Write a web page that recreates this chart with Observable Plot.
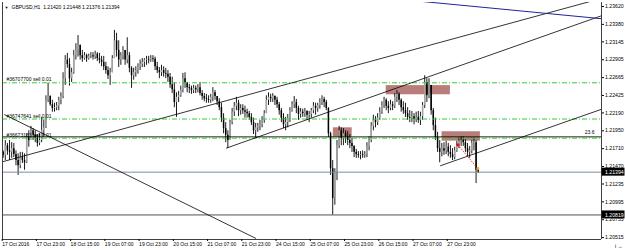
<!DOCTYPE html>
<html><head><meta charset="utf-8">
<script src="https://cdn.jsdelivr.net/npm/d3@7"></script>
<script src="https://cdn.jsdelivr.net/npm/@observablehq/plot@0.6"></script>
<style>html,body{margin:0;padding:0;background:#fff}#chart svg{display:block}</style>
</head><body><div id="chart"></div>
<script>
// ---- Header ----
const headerText = "GBPUSD,H1  1.21420 1.21448 1.21376 1.21394";

// ---- Candles (H1 bars, index 0 = 17 Oct 2016 07:00) ----
const firstOpen = 1.2166;
const highs = [
1.2168,1.2182,1.2178,1.2182,1.2179,1.2178,1.2168,1.2164,1.2166,1.2166,
1.2164,1.2191,1.2195,1.2201,1.2198,1.2195,1.2190,1.2191,1.2213,1.2209,
1.2242,1.2259,1.2242,1.2236,1.2232,1.2233,1.2240,1.2246,1.2273,1.2296,
1.2299,1.2292,1.2279,1.2303,1.2312,1.2323,1.2310,1.2303,1.2300,1.2298,
1.2298,1.2300,1.2300,1.2302,1.2300,1.2299,1.2295,1.2295,1.2287,1.2281,
1.2279,1.2296,1.2330,1.2326,1.2316,1.2300,1.2308,1.2303,1.2320,1.2300,
1.2281,1.2279,1.2281,1.2285,1.2290,1.2292,1.2292,1.2295,1.2295,1.2296,
1.2296,1.2294,1.2287,1.2280,1.2283,1.2281,1.2279,1.2276,1.2272,1.2267,
1.2259,1.2246,1.2248,1.2255,1.2272,1.2273,1.2260,1.2257,1.2255,1.2256,
1.2255,1.2257,1.2260,1.2249,1.2245,1.2244,1.2242,1.2244,1.2253,1.2249,
1.2241,1.2238,1.2232,1.2218,1.2206,1.2195,1.2209,1.2225,1.2233,1.2240,
1.2236,1.2230,1.2230,1.2228,1.2224,1.2221,1.2218,1.2212,1.2205,1.2205,
1.2209,1.2214,1.2222,1.2242,1.2246,1.2244,1.2245,1.2242,1.2240,1.2233,
1.2225,1.2218,1.2213,1.2217,1.2226,1.2234,1.2241,1.2237,1.2228,1.2225,
1.2224,1.2225,1.2222,1.2221,1.2225,1.2233,1.2232,1.2232,1.2238,1.2242,
1.2240,1.2236,1.2226,1.2193,1.2155,1.2144,1.2182,1.2201,1.2199,1.2198,
1.2195,1.2194,1.2190,1.2185,1.2175,1.2170,1.2167,1.2167,1.2168,1.2167,
1.2179,1.2187,1.2206,1.2216,1.2214,1.2218,1.2226,1.2234,1.2240,1.2238,
1.2234,1.2236,1.2234,1.2245,1.2249,1.2246,1.2238,1.2234,1.2232,1.2226,
1.2222,1.2221,1.2218,1.2220,1.2221,1.2220,1.2233,1.2269,1.2265,1.2265,
1.2256,1.2225,1.2212,1.2193,1.2182,1.2178,1.2179,1.2181,1.2178,1.2175,
1.2171,1.2173,1.2181,1.2185,1.2187,1.2187,1.2183,1.2178,1.2174,1.2182,
1.2186,1.2182,1.21448];
const lows = [
1.2158,1.2155,1.2162,1.2155,1.2158,1.2159,1.2148,1.2135,1.2144,1.2151,
1.2142,1.2151,1.2173,1.2185,1.2182,1.2179,1.2173,1.2175,1.2179,1.2187,
1.2198,1.2233,1.2228,1.2220,1.2220,1.2222,1.2222,1.2230,1.2238,1.2256,
1.2279,1.2255,1.2260,1.2271,1.2290,1.2294,1.2290,1.2287,1.2290,1.2287,
1.2290,1.2292,1.2290,1.2291,1.2288,1.2285,1.2281,1.2276,1.2271,1.2264,
1.2256,1.2273,1.2292,1.2294,1.2280,1.2283,1.2290,1.2283,1.2285,1.2273,
1.2252,1.2263,1.2267,1.2271,1.2276,1.2280,1.2280,1.2283,1.2285,1.2287,
1.2287,1.2276,1.2272,1.2265,1.2268,1.2267,1.2265,1.2260,1.2252,1.2245,
1.2226,1.2213,1.2233,1.2240,1.2246,1.2252,1.2246,1.2245,1.2244,1.2245,
1.2245,1.2246,1.2242,1.2236,1.2234,1.2232,1.2232,1.2232,1.2234,1.2236,
1.2229,1.2222,1.2206,1.2191,1.2179,1.2171,1.2182,1.2203,1.2214,1.2222,
1.2214,1.2216,1.2217,1.2212,1.2212,1.2209,1.2202,1.2190,1.2185,1.2193,
1.2195,1.2199,1.2205,1.2218,1.2229,1.2233,1.2233,1.2229,1.2225,1.2216,
1.2206,1.2198,1.2195,1.2199,1.2206,1.2220,1.2225,1.2218,1.2209,1.2212,
1.2213,1.2213,1.2209,1.2206,1.2212,1.2218,1.2216,1.2220,1.2224,1.2229,
1.2226,1.2222,1.2186,1.2135,1.2082,1.2095,1.2128,1.2171,1.2175,1.2175,
1.2178,1.2175,1.2171,1.2166,1.2159,1.2158,1.2158,1.2156,1.2158,1.2158,
1.2159,1.2168,1.2179,1.2195,1.2199,1.2202,1.2209,1.2217,1.2225,1.2222,
1.2218,1.2222,1.2222,1.2225,1.2233,1.2229,1.2220,1.2217,1.2213,1.2209,
1.2206,1.2206,1.2203,1.2206,1.2205,1.2202,1.2209,1.2225,1.2233,1.2238,
1.2216,1.2195,1.2182,1.2166,1.2152,1.2160,1.2162,1.2163,1.2160,1.2158,
1.2155,1.2156,1.2166,1.2171,1.2174,1.2174,1.2166,1.2160,1.2158,1.2164,
1.2168,1.2124,1.21376];
const closes = [
1.2162,1.2175,1.2168,1.2166,1.2171,1.2163,1.2155,1.2148,1.2159,1.2155,
1.2152,1.2186,1.2182,1.2195,1.2189,1.2185,1.2178,1.2182,1.2195,1.2199,
1.2236,1.2241,1.2230,1.2225,1.2226,1.2228,1.2236,1.2241,1.2265,1.2290,
1.2284,1.2265,1.2273,1.2296,1.2303,1.2310,1.2296,1.2292,1.2296,1.2292,
1.2295,1.2296,1.2294,1.2298,1.2292,1.2290,1.2287,1.2281,1.2276,1.2269,
1.2273,1.2292,1.2316,1.2303,1.2290,1.2296,1.2303,1.2290,1.2296,1.2279,
1.2269,1.2273,1.2276,1.2281,1.2284,1.2287,1.2290,1.2291,1.2290,1.2292,
1.2291,1.2281,1.2276,1.2273,1.2276,1.2272,1.2271,1.2267,1.2257,1.2250,
1.2233,1.2240,1.2242,1.2249,1.2265,1.2259,1.2253,1.2252,1.2249,1.2252,
1.2250,1.2253,1.2245,1.2241,1.2238,1.2237,1.2236,1.2240,1.2246,1.2241,
1.2234,1.2226,1.2212,1.2198,1.2189,1.2182,1.2206,1.2220,1.2228,1.2232,
1.2222,1.2225,1.2222,1.2220,1.2218,1.2213,1.2206,1.2195,1.2199,1.2201,
1.2203,1.2209,1.2218,1.2236,1.2240,1.2238,1.2241,1.2236,1.2230,1.2222,
1.2212,1.2203,1.2206,1.2212,1.2222,1.2230,1.2233,1.2225,1.2217,1.2220,
1.2218,1.2221,1.2216,1.2217,1.2222,1.2228,1.2225,1.2229,1.2233,1.2237,
1.2233,1.2225,1.2191,1.2144,1.2104,1.2139,1.2175,1.2195,1.2185,1.2191,
1.2187,1.2182,1.2178,1.2174,1.2166,1.2163,1.2162,1.2163,1.2162,1.2163,
1.2174,1.2182,1.2201,1.2209,1.2206,1.2212,1.2220,1.2229,1.2236,1.2228,
1.2225,1.2230,1.2228,1.2240,1.2244,1.2236,1.2226,1.2222,1.2218,1.2213,
1.2212,1.2214,1.2210,1.2213,1.2209,1.2214,1.2229,1.2260,1.2242,1.2256,
1.2222,1.2202,1.2186,1.2171,1.2166,1.2171,1.2168,1.2173,1.2166,1.2163,
1.2159,1.2168,1.2175,1.2181,1.2182,1.2179,1.2171,1.2166,1.2168,1.2178,
1.2179,1.2142,1.21394];

// ---- Axis ticks ----
const xTickIdx = [0,16,32,48,64,80,96,112,128,144,160,176,192,208];
const xTickLabels = ["17 Oct 2016","17 Oct 23:00","18 Oct 15:00","19 Oct 07:00","19 Oct 23:00","20 Oct 15:00","21 Oct 07:00","21 Oct 23:00","24 Oct 15:00","25 Oct 07:00","25 Oct 23:00","26 Oct 15:00","27 Oct 07:00","27 Oct 23:00"];
const yTicks = [1.23620,1.23380,1.23145,1.22905,1.22665,1.22425,1.22190,1.21950,1.21710,1.21470,1.21235,1.20995,1.20755,1.20515];

// ---- Objects on chart ----
const orderLevels = [1.22595, 1.22108, 1.21851];
const orderLabels = ["#36707700 sell 0.01", "#36747641 sell 0.01", "#36673133 sell 0.01"];
const fiboLevel = 1.21868;
const fiboLabel = "23.6";
const bidPrice = 1.21394;
const lowLine = 1.20819;
const markedPrices = [1.21394, 1.20819];

const zoneStart = [179, 154.3, 205.1];
const zoneEnd = [209, 163.1, 223];
const zoneTop = [1.22557, 1.21990, 1.21937];
const zoneBottom = [1.22434, 1.21864, 1.21811];

const trendX1 = [-1, 104.2, 204.2, 0.5];
const trendY1 = [1.21528, 1.21716, 1.21479, 1.22169];
const trendX2 = [276, 280, 280.2, 118.2];
const trendY2 = [1.23701, 1.23500, 1.22245, 1.20502];

const blueX = [181.3, 280];
const blueY = [1.23728, 1.23455];
const redX = [212.5, 221.8];
const redY = [1.21762, 1.21439];

// ---- Build ----
const bars = closes.map((c, i) => ({
  i, open: i === 0 ? firstOpen : closes[i - 1], high: highs[i], low: lows[i], close: c
}));
const xDomain = [-0.3, 279.6];
const yDomain = [1.20489, 1.23674];
const pxY = (yDomain[1] - yDomain[0]) / 237;
const pxX = (xDomain[1] - xDomain[0]) / 599;

const chart = Plot.plot({
  width: 625, height: 250,
  marginLeft: 2, marginRight: 24, marginTop: 2, marginBottom: 11,
  x: {type: "linear", domain: xDomain},
  y: {domain: yDomain},
  color: {type: "identity"},
  style: {fontFamily: "'Liberation Sans', Arial, sans-serif", fontSize: "5.2px", background: "#fff", color: "#000"},
  marks: [
    // background zones
    Plot.rect(d3.range(zoneStart.length), {
      x1: i => zoneStart[i], x2: i => zoneEnd[i], y1: i => zoneBottom[i], y2: i => zoneTop[i],
      fill: "#b97d7c", clip: true
    }),
    // candles
    Plot.ruleX(bars, {x: "i", y1: "low", y2: "high", stroke: "#000", strokeWidth: 0.9}),
    Plot.ruleX(bars, {x: "i", y1: "open", y2: "close",
      stroke: d => d.close >= d.open ? "#a4a4a4" : "#000", strokeWidth: 1.5}),
    // horizontal lines
    Plot.ruleY([bidPrice], {stroke: "#7d8c9c", strokeWidth: 1}),
    Plot.ruleY([lowLine], {stroke: "#505050", strokeWidth: 1}),
    Plot.ruleY([fiboLevel], {stroke: "#000", strokeWidth: 0.9}),
    Plot.ruleY(orderLevels, {stroke: "#32cd32", strokeWidth: 1, strokeDasharray: "5,2,1,2"}),
    // trend lines
    Plot.link(d3.range(trendX1.length), {
      x1: i => trendX1[i], y1: i => trendY1[i], x2: i => trendX2[i], y2: i => trendY2[i],
      stroke: "#000", strokeWidth: 0.8, clip: true
    }),
    Plot.link([0], {x1: () => blueX[0], y1: () => blueY[0], x2: () => blueX[1], y2: () => blueY[1],
      stroke: "#22229a", strokeWidth: 1, clip: true}),
    Plot.link([0], {x1: () => redX[0], y1: () => redY[0], x2: () => redX[1], y2: () => redY[1],
      stroke: "#ff0000", strokeWidth: 1, strokeDasharray: "1.2,1.4"}),
    Plot.dot([0], {x: () => redX[0], y: () => redY[0], r: 1.6, fill: "#ff0000"}),
    Plot.dot([0], {x: () => redX[1], y: () => redY[1], r: 1.5, fill: "#f2a31b"}),
    // frame lines
    Plot.ruleX([xDomain[0]], {stroke: "#404040", strokeWidth: 1}),
    Plot.ruleX([xDomain[1]], {stroke: "#404040", strokeWidth: 1}),
    Plot.ruleY([yDomain[0]], {stroke: "#404040", strokeWidth: 1}),
    // axes
    Plot.axisY(yTicks, {anchor: "right", tickSize: 2, tickPadding: 1.5, tickFormat: d => d.toFixed(5), fontSize: 5.2}),
    Plot.axisX(xTickIdx, {anchor: "bottom", tickSize: 2, tickPadding: 1, textAnchor: "start", dx: -1,
      tickFormat: d => xTickLabels[xTickIdx.indexOf(d)], fontSize: 5}),
    // highlighted price boxes on the axis
    Plot.rect(markedPrices, {x1: xDomain[1] + 0.3, x2: xDomain[1] + 23.5 * pxX,
      y1: d => d - 4 * pxY, y2: d => d + 4 * pxY, fill: "#000"}),
    Plot.text(markedPrices, {y: d => d, text: d => d.toFixed(5), frameAnchor: "right", dx: 3.5,
      textAnchor: "start", fill: "#fff", fontSize: 5.2}),
    // labels
    Plot.text(orderLevels, {y: d => d, text: (d, i) => orderLabels[i], frameAnchor: "left", dx: 4, dy: -3,
      textAnchor: "start", fill: "#000", fontSize: 5}),
    Plot.text([fiboLevel], {y: d => d, text: () => fiboLabel, frameAnchor: "right", dx: -7, dy: -4,
      textAnchor: "end", fill: "#000", fontSize: 5}),
    Plot.text([headerText], {frameAnchor: "top-left", dx: 9, dy: 3, lineAnchor: "top", textAnchor: "start",
      fill: "#000", fontSize: 5}),
    Plot.text(["\u25BC"], {frameAnchor: "top-left", dx: 2, dy: 3.5, lineAnchor: "top", textAnchor: "start",
      fill: "#000", fontSize: 4})
  ]
});
document.getElementById("chart").appendChild(chart);
</script>
</body></html>
